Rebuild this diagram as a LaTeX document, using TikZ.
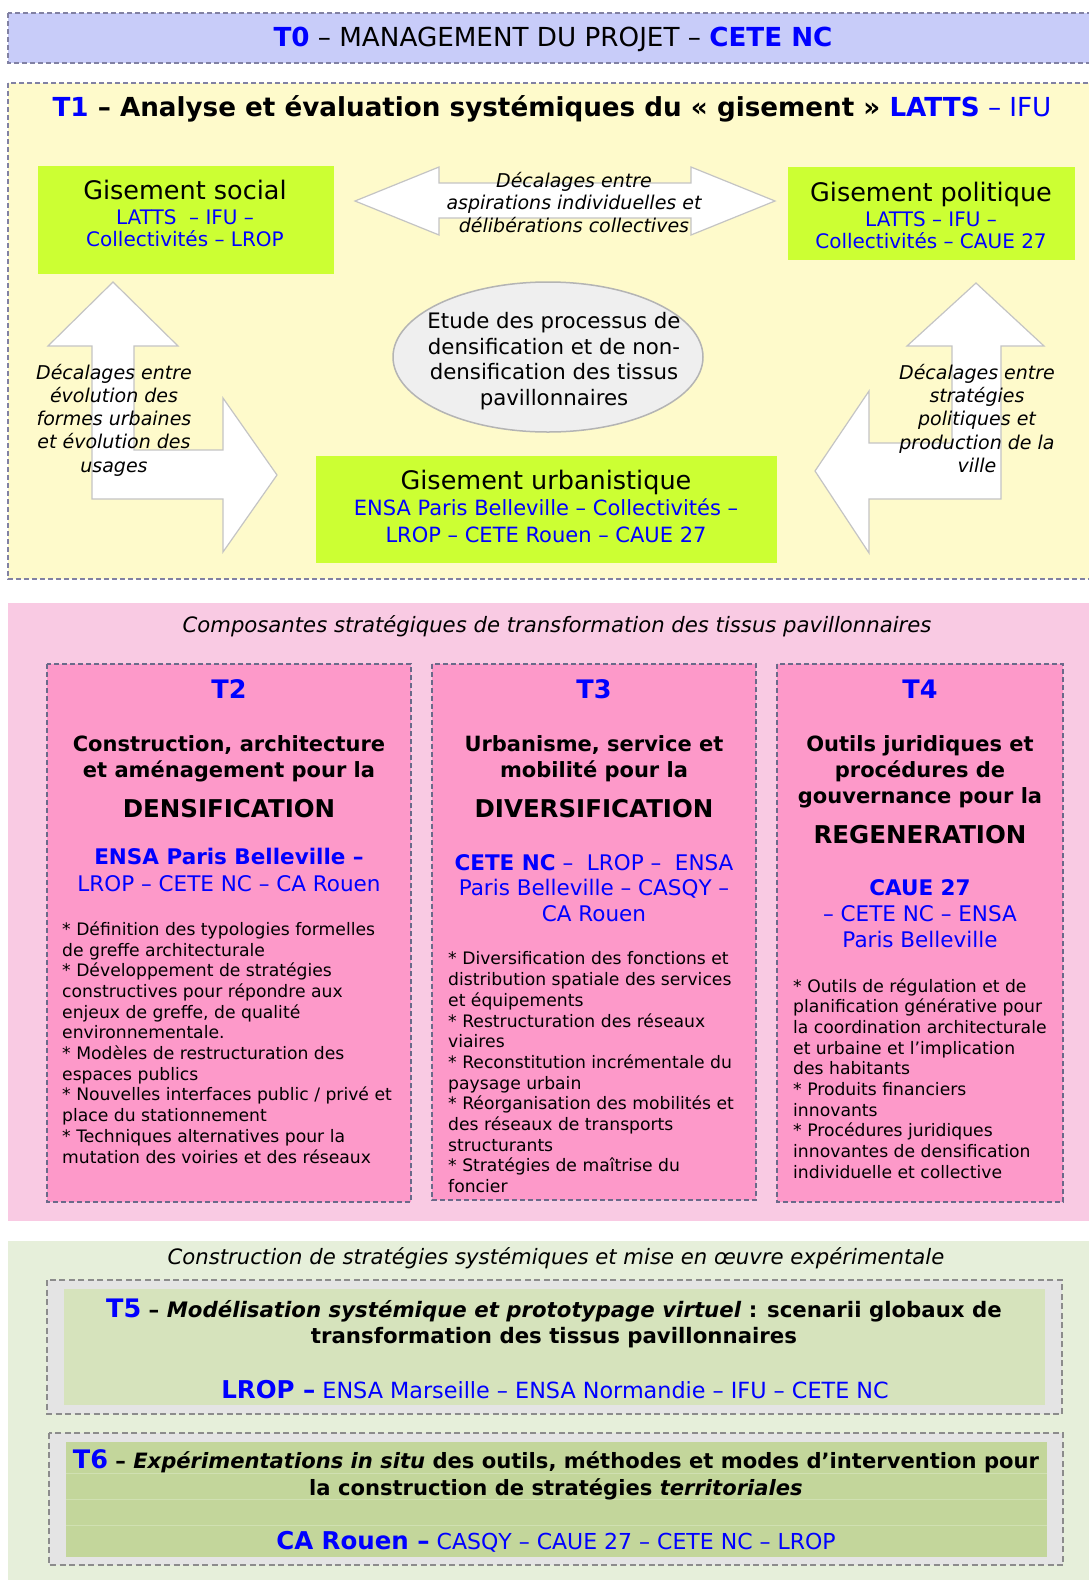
\documentclass[tikz,border=0pt]{standalone}
\usepackage{fontspec}
\setmainfont{DejaVu Sans}
\usetikzlibrary{shapes.geometric}
\definecolor{cTzero}{HTML}{C8CCF9}
\definecolor{cTone}{HTML}{FEFACB}
\definecolor{dashc}{HTML}{8181A3}
\definecolor{cLime}{HTML}{CCFF33}
\definecolor{pinksec}{HTML}{F9CAE3}
\definecolor{pinkbox}{HTML}{FD99C9}
\definecolor{boxdash}{HTML}{6A6A8A}
\definecolor{greensec}{HTML}{E6EFDA}
\definecolor{frameg}{HTML}{E4E4E4}
\definecolor{frdash}{HTML}{8C8C8C}
\definecolor{tfivefill}{HTML}{D6E3BC}
\definecolor{tsixfill}{HTML}{C3D69B}
\definecolor{tsixline}{HTML}{D0E0B2}
\definecolor{txtblue}{HTML}{0000FF}
\definecolor{arrowline}{HTML}{C4C4C4}
\definecolor{ellfill}{HTML}{EFEFEF}
\definecolor{ellline}{HTML}{B4B4B4}
\newcommand{\myfs}[2]{\fontsize{#1}{#2}\selectfont}
\newcommand{\blu}[1]{\textcolor{txtblue}{#1}}
\newcommand{\mystrut}{\rule[-0.2em]{0pt}{0.95em}}
\newcommand{\lns}[1]{\mystrut#1\mystrut}
\begin{document}
\begin{tikzpicture}[x=1pt,y=-1pt,
  txt/.style={inner sep=0pt, align=center},
  txtl/.style={inner sep=0pt, align=left, anchor=west},
  secdash/.style={draw=dashc, line width=1.5pt, dash pattern=on 5pt off 3pt},
  boxdashed/.style={draw=boxdash, line width=1.3pt, dash pattern=on 5pt off 3pt},
  framedash/.style={draw=frdash, line width=1.5pt, dash pattern=on 6pt off 3.5pt},
  bigarrow/.style={fill=white, draw=arrowline, line width=1.2pt, line join=miter},
  head/.style={font=\myfs{25.5}{30}},
  headbig/.style={font=\myfs{26.2}{30}},
  sub/.style={font=\myfs{20}{22}},
  bullet/.style={font=\myfs{17.2}{20.7}},
  ttl/.style={font=\myfs{21}{26}\bfseries},
  caps/.style={font=\myfs{24.5}{28}\bfseries}
]
\useasboundingbox (0,0) rectangle (1088,1580);
\fill[white] (0,0) rectangle (1088,1580);

% ---------- T0 ----------
\draw[secdash, fill=cTzero] (8,13) rectangle (1100,63);
\node[txt, headbig] (tzero) at (553,39) {\lns{\blu{\textbf{T0}} – MANAGEMENT DU PROJET – \blu{\textbf{CETE NC}}}};

% ---------- T1 ----------
\draw[secdash, fill=cTone] (8,83) rectangle (1100,579);
\node[txt, headbig] (tone) at (552,109) {\lns{\textbf{\blu{T1} – Analyse et évaluation systémiques du « gisement » \blu{LATTS}} \blu{– IFU}}};

% green boxes
\fill[cLime] (38,166) rectangle (334,274);
\fill[cLime] (788,167) rectangle (1075,260);
\fill[cLime] (316,456) rectangle (777,563);

% horizontal double arrow
\draw[bigarrow] (355,201) -- (439,167) -- (439,183) -- (691,183) -- (691,167) -- (775,201)
  -- (691,235) -- (691,218) -- (439,218) -- (439,235) -- cycle;
% left bent arrow
\draw[bigarrow] (92,499) -- (92,346) -- (48,346) -- (113,282) -- (178,346) -- (134,346)
  -- (134,450) -- (223,450) -- (223,398) -- (277,475) -- (223,552) -- (223,499) -- cycle;
% right bent arrow
\draw[bigarrow] (1001,499) -- (1001,346) -- (1044,346) -- (976,283) -- (907,346) -- (952,346)
  -- (952,443) -- (869,443) -- (869,391) -- (815,471) -- (869,553) -- (869,499) -- cycle;

% ellipse
\node[ellipse, fill=ellfill, draw=ellline, line width=1.5pt, minimum width=310pt, minimum height=150pt, inner sep=0pt] (etude) at (548,357) {};
\node[txt, font=\myfs{21.3}{25.7}] (etudetxt) at (554,361) {\lns{Etude des processus de\\densification et de non-\\densification des tissus\\pavillonnaires}};

% box texts
\node[txt, head] (social) at (185,192) {\lns{Gisement social}};
\node[txt, sub] (socialp) at (185,230) {\lns{\blu{LATTS \ – IFU –}\\\blu{Collectivités – LROP}}};
\node[txt, head] (polit) at (931,194) {\lns{Gisement politique}};
\node[txt, sub] (politp) at (931,232) {\lns{\blu{LATTS – IFU –}\\\blu{Collectivités – CAUE 27}}};
\node[txt, head] (urba) at (546,482) {\lns{Gisement urbanistique}};
\node[txt, font=\myfs{21}{27}] (urbap) at (546,523) {\lns{\blu{ENSA Paris Belleville – Collectivités –}\\\blu{LROP – CETE Rouen – CAUE 27}}};

% arrow texts
\node[txt, font=\myfs{19}{22.7}\itshape] (dech) at (574,204) {\lns{Décalages entre\\aspirations individuelles et\\délibérations collectives}};
\node[txt, font=\myfs{19}{23.3}\itshape] (decl) at (114,420) {\lns{Décalages entre\\évolution des\\formes urbaines\\et évolution des\\usages}};
\node[txt, font=\myfs{19}{23.3}\itshape] (decr) at (977,420) {\lns{Décalages entre\\stratégies\\politiques et\\production de la\\ville}};

% ---------- pink section ----------
\fill[pinksec] (8,603) rectangle (1100,1221);
\node[txt, font=\myfs{21.2}{25}\itshape] (pinkcap) at (557,626) {\lns{Composantes stratégiques de transformation des tissus pavillonnaires}};

\draw[boxdashed, fill=pinkbox] (47,664) rectangle (411,1202);
\draw[boxdashed, fill=pinkbox] (432,664) rectangle (756,1200);
\draw[boxdashed, fill=pinkbox] (777,664) rectangle (1063,1202);

% T2
\node[txt, head] (ttwo) at (229,691) {\lns{\blu{\textbf{T2}}}};
\node[txt, ttl] (ttwot) at (229,759) {\lns{Construction, architecture\\et aménagement pour la}};
\node[txt, caps] (ttwod) at (229,811) {\lns{DENSIFICATION}};
\node[txt, font=\myfs{21.5}{27}] (ttwop) at (229,872) {\lns{\blu{\textbf{ENSA Paris Belleville –}}\\\blu{LROP – CETE NC – CA Rouen}}};
\node[txtl, bullet] (ttwob) at (62,1044) {\lns{* Définition des typologies formelles\\de greffe architecturale\\* Développement de stratégies\\constructives pour répondre aux\\enjeux de greffe, de qualité\\environnementale.\\* Modèles de restructuration des\\espaces publics\\* Nouvelles interfaces public / privé et\\place du stationnement\\* Techniques alternatives pour la\\mutation des voiries et des réseaux}};

% T3
\node[txt, head] (tthree) at (594,691) {\lns{\blu{\textbf{T3}}}};
\node[txt, ttl] (tthreet) at (594,759) {\lns{Urbanisme, service et\\mobilité pour la}};
\node[txt, caps] (tthreed) at (594,811) {\lns{DIVERSIFICATION}};
\node[txt, font=\myfs{21.5}{25.5}] (tthreep) at (594,890) {\lns{\blu{\textbf{CETE NC} – \ LROP – \ ENSA}\\\blu{Paris Belleville – CASQY –}\\\blu{CA Rouen}}};
\begin{scope}
\clip (432,664) rectangle (756,1196);
\node[txtl, bullet] (tthreeb) at (448,1074) {\lns{* Diversification des fonctions et\\distribution spatiale des services\\et équipements\\* Restructuration des réseaux\\viaires\\* Reconstitution incrémentale du\\paysage urbain\\* Réorganisation des mobilités et\\des réseaux de transports\\structurants\\* Stratégies de maîtrise du\\foncier}};
\end{scope}

% T4
\node[txt, head] (tfour) at (920,691) {\lns{\blu{\textbf{T4}}}};
\node[txt, ttl] (tfourt) at (920,772) {\lns{Outils juridiques et\\procédures de\\gouvernance pour la}};
\node[txt, caps] (tfourd) at (920,837) {\lns{REGENERATION}};
\node[txt, font=\myfs{21.5}{26}] (tfourp) at (920,916) {\lns{\blu{\textbf{CAUE 27}}\\\blu{– CETE NC – ENSA}\\\blu{Paris Belleville}}};
\node[txtl, bullet] (tfourb) at (793,1080) {\lns{* Outils de régulation et de\\planification générative pour\\la coordination architecturale\\et urbaine et l’implication\\des habitants\\* Produits financiers\\innovants\\* Procédures juridiques\\innovantes de densification\\individuelle et collective}};

% ---------- green section ----------
\fill[greensec] (8,1241) rectangle (1100,1590);
\node[txt, font=\myfs{21.2}{25}\itshape] (greencap) at (556,1258) {\lns{Construction de stratégies systémiques et mise en œuvre expérimentale}};

% T5
\draw[framedash, fill=frameg] (47,1280) rectangle (1062,1414);
\fill[tfivefill] (64,1289) rectangle (1045,1405);
\node[txt, font=\myfs{21.3}{26}\bfseries] (tfive) at (554,1323) {\lns{\blu{\myfs{25.5}{26}T5} – \textit{Modélisation systémique et prototypage virtuel} : scenarii globaux de\\transformation des tissus pavillonnaires}};
\node[txt, font=\myfs{22.3}{26}] (tfivep) at (555,1392) {\lns{\blu{\textbf{\myfs{24.5}{26}LROP –}} \blu{ENSA Marseille – ENSA Normandie – IFU – CETE NC}}};

% T6
\draw[framedash, fill=frameg] (49,1433) rectangle (1063,1565);
\fill[tsixfill] (66,1442) rectangle (1047,1557);
\draw[tsixline, line width=0.8pt] (66,1473) -- (1047,1473) (66,1499) -- (1047,1499) (66,1525) -- (1047,1525);
\node[txt, font=\myfs{21.1}{27}\bfseries] (tsix) at (556,1475) {\lns{\blu{\myfs{25.5}{27}T6} – \textit{Expérimentations in situ} des outils, méthodes et modes d’intervention pour\\la construction de stratégies \textit{territoriales}}};
\node[txt, font=\myfs{22}{26}] (tsixp) at (556,1543) {\lns{\blu{\textbf{\myfs{24.5}{26}CA Rouen –}} \blu{CASQY – CAUE 27 – CETE NC – LROP}}};

\end{tikzpicture}
\end{document}
